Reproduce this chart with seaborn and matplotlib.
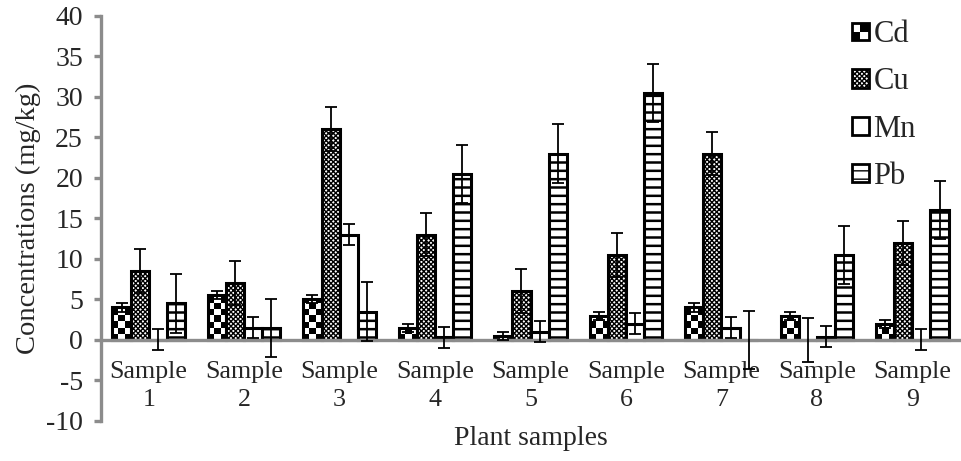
import numpy as np
import pandas as pd
import matplotlib
matplotlib.use('Agg')
import matplotlib.pyplot as plt
import seaborn as sns
from matplotlib.patches import Patch, Rectangle
from matplotlib.legend_handler import HandlerBase

# values (mg/kg)
samples = ['Sample\n1', 'Sample\n2', 'Sample\n3', 'Sample\n4', 'Sample\n5',
           'Sample\n6', 'Sample\n7', 'Sample\n8', 'Sample\n9']
metals = ['Cd', 'Cu', 'Mn', 'Pb']
cd = [4.0, 5.5, 5.0, 1.5, 0.5, 3.0, 4.0, 3.0, 2.0]
cu = [8.5, 7.0, 26.0, 13.0, 6.0, 10.5, 23.0, 0.0, 12.0]
mn = [0.0, 1.5, 13.0, 0.3, 1.0, 2.0, 1.5, 0.4, 0.0]
pb = [4.5, 1.5, 3.5, 20.5, 23.0, 30.5, 0.0, 10.5, 16.0]
cd_err = [0.5] * 9
cu_err = [2.7] * 9
mn_err = [1.3] * 9
pb_err = [3.6] * 9

values = {'Cd': cd, 'Cu': cu, 'Mn': mn, 'Pb': pb}
errors = {'Cd': cd_err, 'Cu': cu_err, 'Mn': mn_err, 'Pb': pb_err}

df = pd.DataFrame([(s, m, values[m][i]) for m in metals for i, s in enumerate(samples)],
                  columns=['sample', 'metal', 'value'])

sns.set_style('white')
plt.rcParams['font.family'] = ['Liberation Serif', 'DejaVu Serif']
plt.rcParams['axes.unicode_minus'] = False
plt.rcParams['hatch.linewidth'] = 1.0

axis_grey = '#8c8c8c'

fig = plt.figure(figsize=(9.62, 4.61), dpi=100)
ax = fig.add_axes([0.105, 0.087, 0.893, 0.8785])

sns.barplot(data=df, x='sample', y='value', hue='metal', hue_order=metals,
            order=samples, width=0.76, errorbar=None, legend=False,
            palette=['white'] * 4, saturation=1, ax=ax)

hatches = {'Cd': '', 'Cu': 'xxxxxxx', 'Mn': '', 'Pb': '--'}
cell_h = 0.75  # checker cell height for Cd in data units

for metal, cont in zip(metals, ax.containers):
    for p in cont.patches:
        p.set_edgecolor('black')
        p.set_linewidth(2.2)
        p.set_hatch(hatches[metal])
        p.set_zorder(2)
        if metal == 'Pb' and hasattr(p, 'set_hatch_linewidth'):
            p.set_hatch_linewidth(1.8)
        if metal == 'Cd' and p.get_height() > 0:
            p.set_facecolor('none')
            nrows = int(np.ceil(p.get_height() / cell_h))
            checker = np.indices((nrows, 3)).sum(axis=0) % 2
            im = ax.imshow(checker, cmap='gray', vmin=0, vmax=1, origin='lower',
                           interpolation='nearest', aspect='auto', zorder=1.5,
                           extent=[p.get_x(), p.get_x() + p.get_width(), 0, nrows * cell_h])
            im.set_clip_path(p)
    xs = [p.get_x() + p.get_width() / 2 for p in cont.patches]
    ax.errorbar(xs, values[metal], yerr=errors[metal], fmt='none', ecolor='black',
                elinewidth=1.3, capsize=4.5, capthick=1.3, zorder=5)

ax.set_xlim(-0.5, len(samples) - 0.5)
ax.set_ylim(-10, 40)
ax.set_yticks(np.arange(-10, 41, 5))

ax.spines['top'].set_visible(False)
ax.spines['right'].set_visible(False)
ax.spines['bottom'].set_position(('data', 0))
for side in ['left', 'bottom']:
    ax.spines[side].set_color(axis_grey)
    ax.spines[side].set_linewidth(2.4)
    ax.spines[side].set_zorder(3)

ax.set_xticks(np.arange(len(samples)))
ax.set_xticklabels(samples, linespacing=1.35)
ax.set_xticks(np.arange(-0.5, len(samples), 1.0), minor=True)
ax.tick_params(axis='x', which='major', length=0, pad=15, labelsize=18.7)
ax.tick_params(axis='x', which='minor', length=5, width=2.4, color=axis_grey, direction='out')
ax.tick_params(axis='y', length=5, width=2.4, color=axis_grey, pad=8, labelsize=20,
               left=True)

ax.set_xlabel('Plant samples', fontsize=20)
ax.set_ylabel('Concentrations (mg/kg)', fontsize=20.5)
ax.xaxis.set_label_coords(0.5, -0.012)
ax.yaxis.set_label_coords(-0.07, 0.5)


class CheckerHandler(HandlerBase):
    def create_artists(self, legend, orig_handle, xdescent, ydescent, width, height,
                       fontsize, trans):
        s = min(width, height)
        x0, y0 = -xdescent, -ydescent
        arts = []
        for i in range(2):
            for j in range(2):
                fc = 'black' if (i + j) % 2 == 0 else 'white'
                arts.append(Rectangle((x0 + i * s / 2, y0 + j * s / 2), s / 2, s / 2,
                                      facecolor=fc, edgecolor='none', transform=trans))
        arts.append(Rectangle((x0, y0), s, s, facecolor='none', edgecolor='black',
                              lw=2.0, transform=trans))
        return arts


cd_handle = Patch(facecolor='black', edgecolor='black')
handles = [cd_handle] + [Patch(facecolor='white', edgecolor='black', hatch=hatches[m], lw=2.0)
                         for m in metals[1:]]
ax.legend(handles, metals, handler_map={cd_handle: CheckerHandler()},
          loc='upper left', bbox_to_anchor=(0.874, 0.99), frameon=False,
          fontsize=22, borderpad=0, borderaxespad=0, labelspacing=0.6,
          handlelength=0.56, handleheight=0.56, handletextpad=0.15)

fig.savefig('out.png', dpi=100)
